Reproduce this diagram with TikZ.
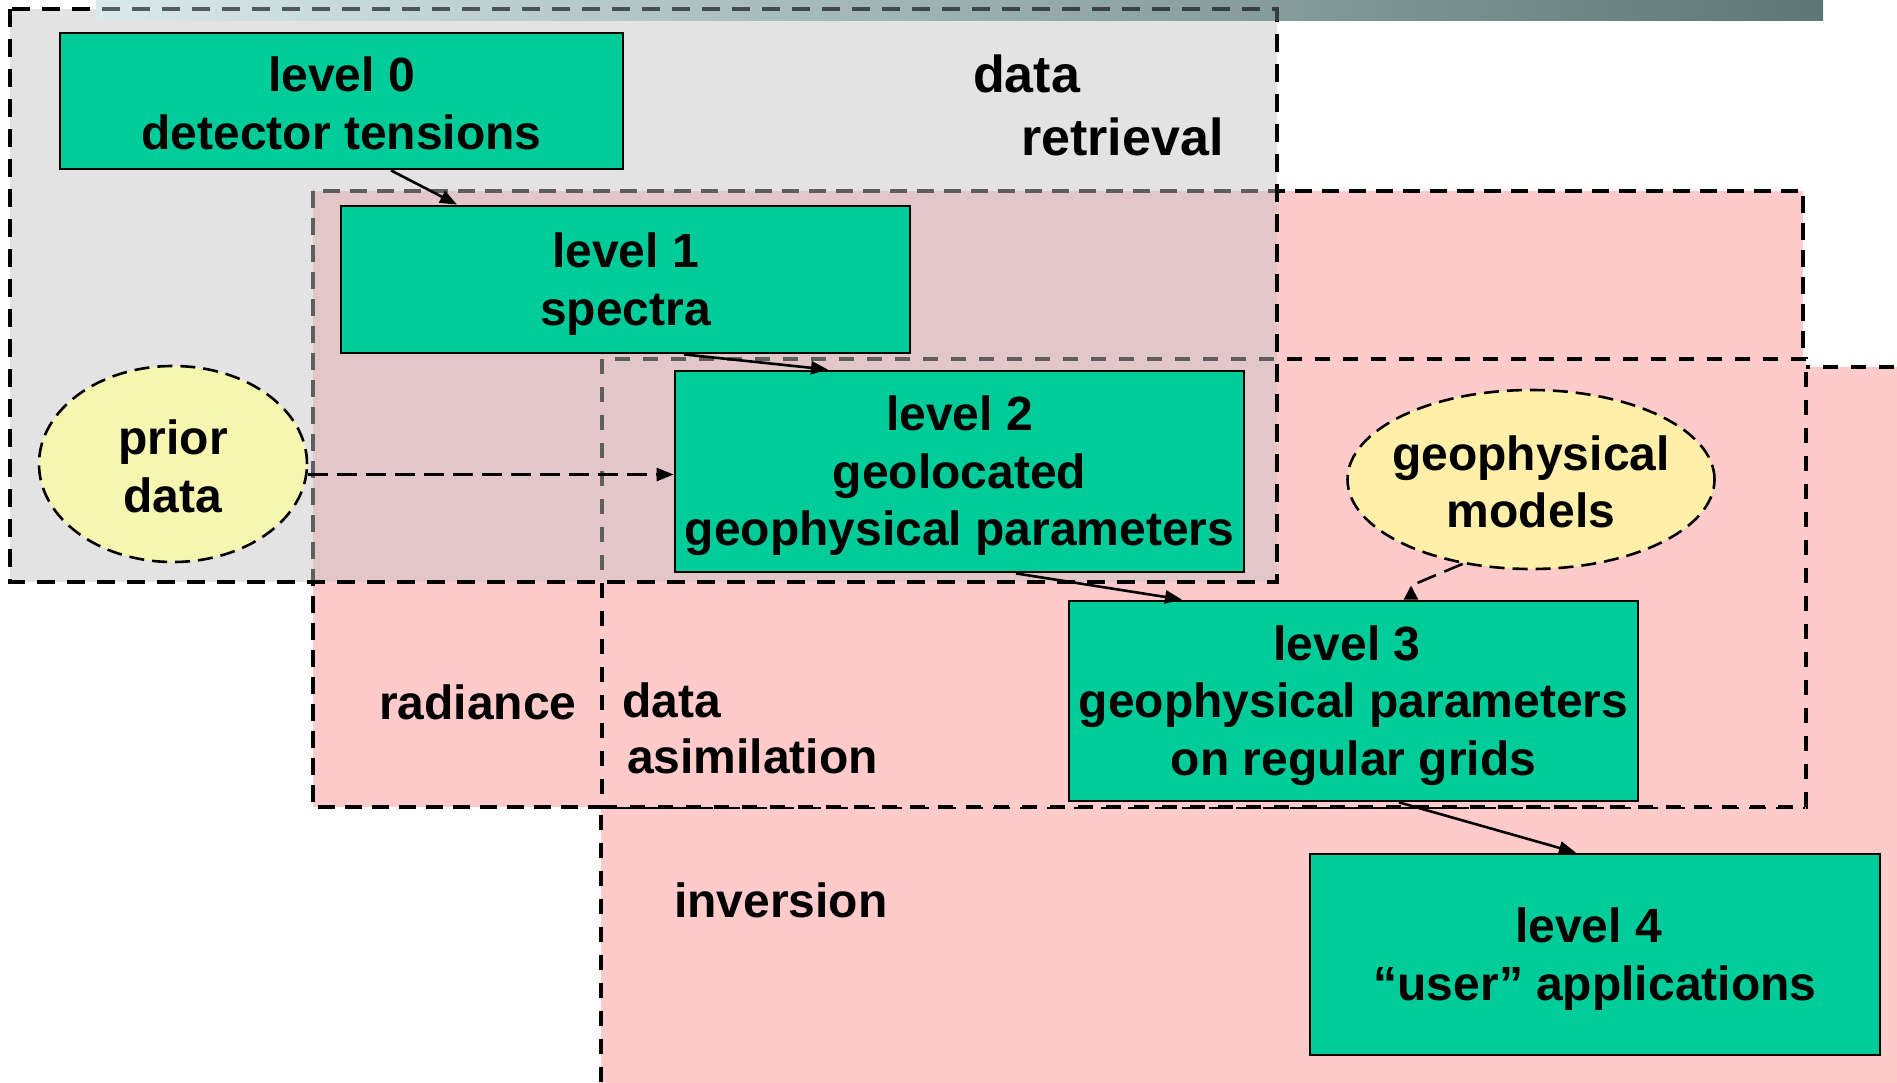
\documentclass[tikz,border=0pt]{standalone}
\usepackage{fontspec}
\setmainfont{Liberation Sans}
\usetikzlibrary{arrows.meta,shapes.geometric}

\definecolor{levelgreen}{HTML}{00CC99}
\definecolor{retrgray}{HTML}{E3E3E3}
\definecolor{radpink}{HTML}{FFCACA}
\definecolor{mixrose}{HTML}{E3C6C8}
\definecolor{priorfill}{HTML}{F6F6B0}
\definecolor{modelfill}{HTML}{FFEFA8}
\definecolor{barleft}{HTML}{D8EAEC}
\definecolor{barright}{HTML}{5E7676}
\definecolor{hiddenline}{HTML}{5E5E5E}

\newcommand\lvlfont{\bfseries\fontsize{48}{57.5}\selectfont}
\newcommand\bigfont{\bfseries\fontsize{52}{60}\selectfont}
\newcommand\linestrut{\rule[-5pt]{0pt}{49pt}}

\begin{document}
\begin{tikzpicture}[x=1pt,y=-1pt,
  lvl/.style={draw=black, line width=2.8pt, fill=levelgreen, inner sep=0pt, align=center, font=\lvlfont},
  blob/.style={ellipse, draw=black, line width=2.6pt, dash pattern=on 15pt off 8pt, inner sep=0pt, align=center, font=\lvlfont},
  tag/.style={inner sep=0pt, anchor=base west, font=\lvlfont},
  flow/.style={draw=black, line width=2.6pt, -{Triangle[length=17pt,width=13pt]}},
  dflow/.style={flow, dash pattern=on 20pt off 9pt},
  retrline/.style={line width=4pt, dash pattern=on 18pt off 12pt},
  radline/.style={line width=4pt, dash pattern=on 17pt off 10pt},
  assimline/.style={line width=3.5pt, dash pattern=on 15pt off 13pt},
  invline/.style={line width=4pt, dash pattern=on 15pt off 13pt},
]
\useasboundingbox (0,0) rectangle (1897,1083);
\clip (0,0) rectangle (1897,1083);

% data retrieval area
\fill[retrgray] (10,9) rectangle (1277,582);
% inversion, radiance and data assimilation areas
\filldraw[fill=radpink, draw=black, invline] (601,367) rectangle (1930,1084.5);
\filldraw[fill=radpink, draw=black, radline] (313,191) rectangle (1803,807);
\filldraw[fill=radpink, draw=black, assimline] (602,359) rectangle (1806,807);
% overlap of retrieval with radiance, borders seen through it
\fill[mixrose] (313,191) rectangle (1277,582);
\begin{scope}
  \clip (300,180) rectangle (1277,582);
  \draw[hiddenline, radline] (313,191) rectangle (1803,807);
  \draw[hiddenline, assimline] (602,359) rectangle (1806,807);
\end{scope}
\draw[black, retrline] (10,9) rectangle (1277,582);

% title bar
\shade[left color=barleft, right color=barright] (96,0) rectangle (1823,21);
\begin{scope}
  \clip (96,0) rectangle (1823,21);
  \draw[black, opacity=0.6, retrline] (10,9) rectangle (1277,582);
\end{scope}

% processing levels
\node[lvl, minimum width=563pt, minimum height=136pt] (l0) at (341.5,101)
  {\linestrut level 0\\\linestrut detector tensions};
\node[lvl, minimum width=569pt, minimum height=147pt] (l1) at (625.5,279.5)
  {\linestrut level 1\\\linestrut spectra};
\node[lvl, minimum width=569pt, minimum height=201pt] (l2) at (959.5,471.5)
  {\linestrut level 2\\\linestrut geolocated\\\linestrut geophysical parameters};
\node[lvl, minimum width=569pt, minimum height=200pt] (l3) at (1353.5,701)
  {\linestrut level 3\hspace*{13pt}\\\linestrut geophysical parameters\\\linestrut on regular grids};
\node[lvl, minimum width=570pt, minimum height=201pt] (l4) at (1595,954.5)
  {\linestrut level 4\hspace*{13pt}\\\linestrut “user” applications};

% external inputs
\node[blob, fill=priorfill, minimum width=268pt, minimum height=196pt] (pd) at (173,464)
  {\linestrut prior\\\linestrut data};
\node[blob, fill=modelfill, inner xsep=-30pt, minimum width=367pt, minimum height=179pt] (gm) at (1531,479.5)
  {\linestrut geophysical\\\linestrut models};

% area names
\node[tag, font=\bigfont] (dr1) at (973,93) {data};
\node[tag, font=\bigfont] (dr2) at (1021,156) {retrieval};
\node[tag] (rad) at (379,719) {radiance};
\node[tag] (da1) at (622,717) {data};
\node[tag] (da2) at (627,773) {asimilation};
\node[tag] (inv) at (674,917) {inversion};

% data flow
\coordinate (l2in) at ([yshift=-3pt]l2.west);
\draw[flow] ([xshift=49.5pt]l0.south) -- ([xshift=-168.5pt]l1.north);
\draw[flow] ([xshift=58.5pt]l1.south) -- ([xshift=-131.5pt]l2.north);
\draw[flow] ([xshift=56.5pt]l2.south) -- ([xshift=-171.5pt]l3.north);
\draw[flow] ([xshift=45.5pt]l3.south) -- ([xshift=-19pt]l4.north);
\draw[dflow] (pd.east |- l2in) -- (l2in);
\draw[dflow, -{Triangle[reversed,length=14pt,width=14pt]}] (gm.-129)
  -- ([xshift=57.5pt,yshift=14pt]l3.north) -- ([xshift=57.5pt]l3.north);
\end{tikzpicture}
\end{document}
